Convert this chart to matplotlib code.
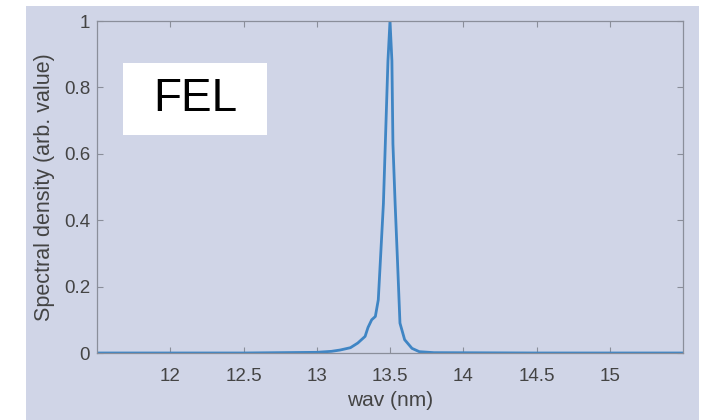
import matplotlib
matplotlib.use('Agg')
import matplotlib.pyplot as plt
from matplotlib.patches import Rectangle

# FEL spectrum
wav = [11.5, 12.5, 13.0, 13.1, 13.16, 13.23, 13.28, 13.33, 13.35, 13.375,
       13.40, 13.42, 13.437, 13.455, 13.468, 13.486, 13.50, 13.513, 13.52,
       13.535, 13.55, 13.568, 13.60, 13.65, 13.70, 13.8, 14.5, 15.5]
dens = [0.0, 0.0, 0.002, 0.005, 0.009, 0.016, 0.03, 0.05, 0.077, 0.10,
        0.11, 0.16, 0.30, 0.45, 0.63, 0.88, 1.0, 0.88, 0.63,
        0.45, 0.29, 0.09, 0.04, 0.014, 0.004, 0.001, 0.0, 0.0]

xticks = [12, 12.5, 13, 13.5, 14, 14.5, 15]
xticklabels = ['12', '12.5', '13', '13.5', '14', '14.5', '15']
yticks = [0, 0.2, 0.4, 0.6, 0.8, 1]
yticklabels = ['0', '0.2', '0.4', '0.6', '0.8', '1']

bg = '#d0d5e7'
plt.rcParams['font.family'] = ['Liberation Sans', 'DejaVu Sans']

fig = plt.figure(figsize=(7.03, 4.20), dpi=100)
fig.patch.set_facecolor('white')
fig.patches.append(Rectangle((26 / 703, 0), 673 / 703, 414 / 420,
                             transform=fig.transFigure, facecolor=bg,
                             edgecolor='none', zorder=-10))

ax = fig.add_axes([97 / 703, 67 / 420, 586 / 703, 332 / 420])
ax.set_facecolor(bg)
ax.plot(wav, dens, color='#3f85c4', lw=2.0)
ax.set_xlim(11.5, 15.5)
ax.set_ylim(0, 1)
ax.set_xticks(xticks)
ax.set_xticklabels(xticklabels)
ax.set_yticks(yticks)
ax.set_yticklabels(yticklabels)
ax.tick_params(direction='in', length=4, width=0.8, color='#8a8e9a',
               labelsize=13.5, labelcolor='#444444', top=True, right=True)
ax.tick_params(axis='x', pad=11)
ax.tick_params(axis='y', pad=5)
for s in ax.spines.values():
    s.set_color('#8a8e9a')
    s.set_linewidth(0.9)
ax.set_xlabel('wav (nm)', fontsize=15, color='#444444', labelpad=4)
ax.set_ylabel('Spectral density (arb. value)', fontsize=15.5,
              color='#444444', labelpad=6)

# white label box
fig.patches.append(Rectangle((123 / 703, 285 / 420), 144 / 703, 72 / 420,
                             transform=fig.transFigure, facecolor='white',
                             edgecolor='none', zorder=5))
fig.text(195 / 703, 321 / 420, 'FEL', fontsize=33, color='black',
         ha='center', va='center', zorder=6)

fig.savefig('out.png', dpi=100)
